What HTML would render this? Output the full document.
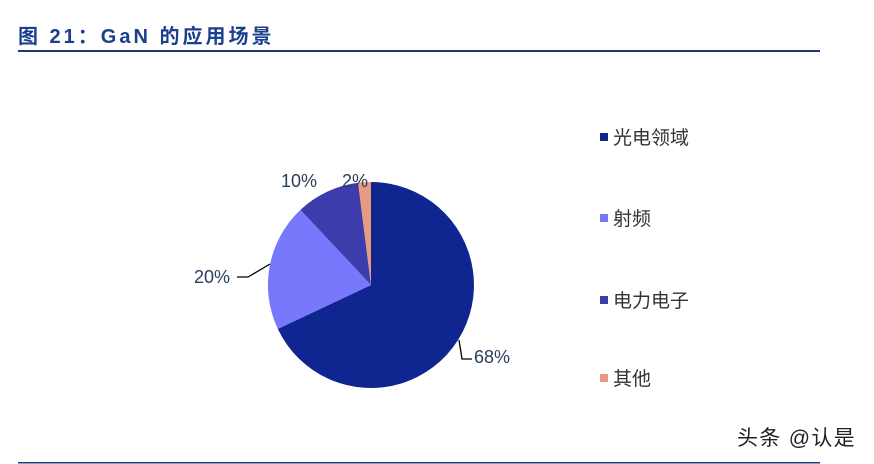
<!DOCTYPE html>
<html><head><meta charset="utf-8"><style>
html,body{margin:0;padding:0;background:#fff;}
body{width:874px;height:464px;position:relative;overflow:hidden;font-family:"Liberation Sans","Noto Sans CJK SC",sans-serif;}
</style></head><body>
<svg width="874" height="464" xmlns="http://www.w3.org/2000/svg" style="position:absolute;left:0;top:0">
<text x="18" y="43" font-family="Liberation Sans, Noto Sans CJK SC, sans-serif" font-size="20" font-weight="bold" fill="#1b3f8f" letter-spacing="3">图 21：GaN 的应用场景</text>
<rect x="18" y="50" width="802" height="2" fill="#1f3a7a"/>
<rect x="18" y="462" width="802" height="1.5" fill="#1f3a7a"/>
<path d="M371,285 L371,182 A103,103 0 1,1 277.8,328.9 Z" fill="#0f2590"/>
<path d="M371,285 L277.8,328.9 A103,103 0 0,1 300.4,209.9 Z" fill="#7878fc"/>
<path d="M371,285 L300.4,209.9 A103,103 0 0,1 358.1,182.8 Z" fill="#3c3cac"/>
<path d="M371,285 L358.1,182.8 A103,103 0 0,1 371,182 Z" fill="#e89a80"/>
<polyline points="237,277 248,277 270,264" fill="none" stroke="#000" stroke-width="1.3"/>
<polyline points="459,340 462,359 472,359" fill="none" stroke="#000" stroke-width="1.3"/>
<g font-family="Liberation Sans, sans-serif" font-size="18" fill="#2a3d5c">
<text x="194" y="283">20%</text>
<text x="474" y="363">68%</text>
<text x="281" y="187">10%</text>
<text x="342" y="187">2%</text>
</g>
<rect x="600" y="133" width="8" height="8" fill="#0f2590"/>
<rect x="600" y="214" width="8" height="8" fill="#7878fc"/>
<rect x="600" y="296" width="8" height="8" fill="#3c3cac"/>
<rect x="600" y="374" width="8" height="8" fill="#e89a80"/>
<g font-family="Liberation Sans, Noto Sans CJK SC, sans-serif" font-size="19" fill="#333">
<text x="613" y="144">光电领域</text>
<text x="613" y="225">射频</text>
<text x="613" y="307">电力电子</text>
<text x="613" y="385">其他</text>
</g>
<text x="737" y="445" font-family="Liberation Sans, Noto Sans CJK SC, sans-serif" font-size="21" fill="#222" letter-spacing="1.3">头条 @认是</text>
</svg>
</body></html>
